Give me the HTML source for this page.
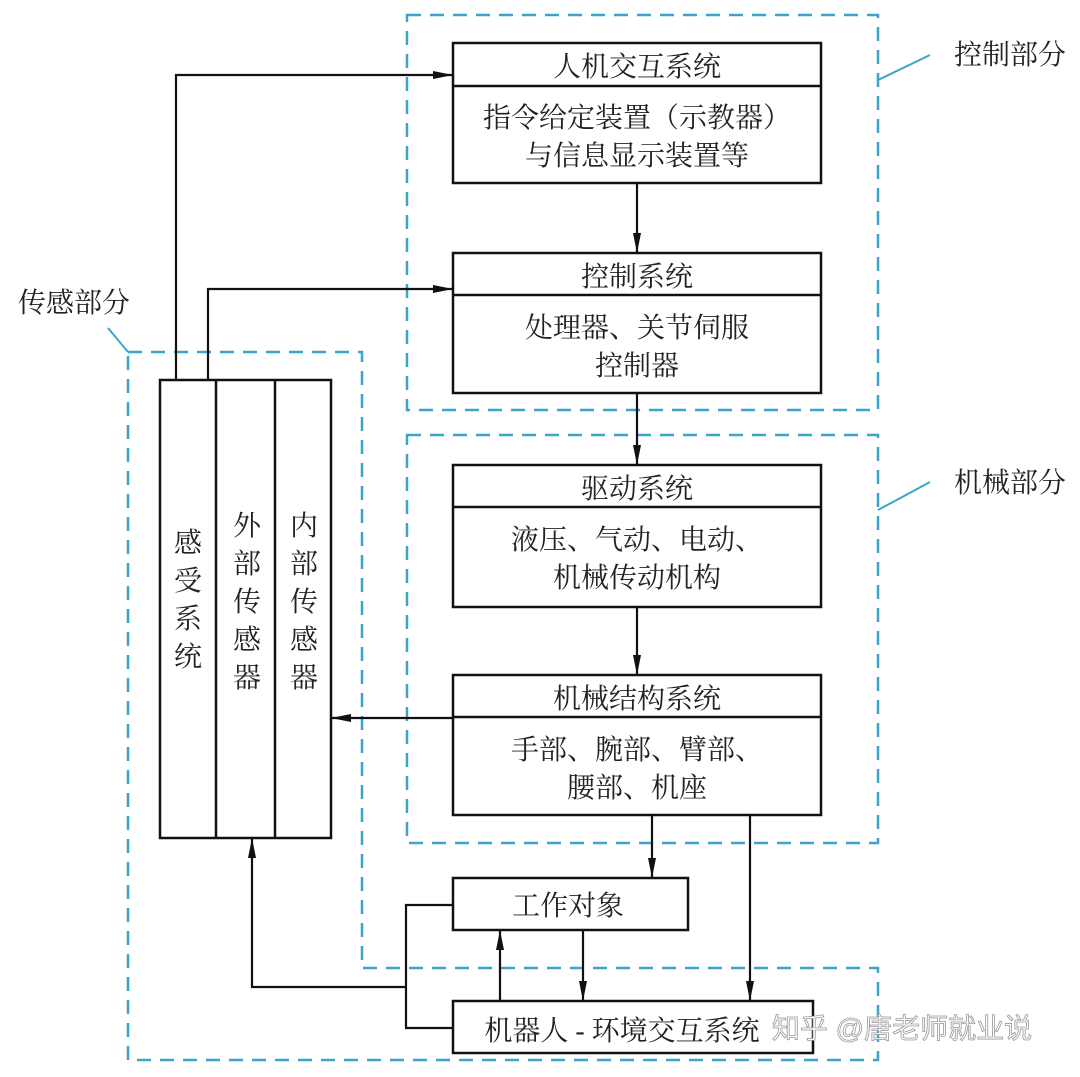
<!DOCTYPE html>
<html><head><meta charset="utf-8"><style>
body{margin:0;background:#fff}
svg text{font-family:"Liberation Serif","Noto Serif CJK SC",serif;fill:#222}
</style></head><body>
<svg width="1080" height="1072" viewBox="0 0 1080 1072" xmlns="http://www.w3.org/2000/svg">
<defs>
<marker id="b" viewBox="0 0 20 10" refX="20" refY="5" markerWidth="20" markerHeight="10" markerUnits="userSpaceOnUse" orient="auto"><path d="M0,1 L20,5 L0,9 Z" fill="#111"/></marker></defs>
<g fill="none" stroke="#3aa5c8" stroke-width="2.5" stroke-dasharray="14,9">
<rect x="407" y="15" width="471" height="395"/>
<rect x="407" y="435" width="471" height="408"/>
<path d="M128,352 H362 V968 H878 V1060 H128 Z"/>
</g>
<g stroke="#3aa5c8" stroke-width="2"><path d="M878,80 L930,55"/><path d="M878,510 L930,482"/><path d="M128,352 L108,328"/></g>
<g fill="#fff" stroke="#111" stroke-width="2.5">
<rect x="453" y="43" width="368" height="140"/><line x1="453" y1="86" x2="821" y2="86"/>
<rect x="453" y="253" width="368" height="140"/><line x1="453" y1="295" x2="821" y2="295"/>
<rect x="453" y="465" width="368" height="142"/><line x1="453" y1="507" x2="821" y2="507"/>
<rect x="453" y="675" width="368" height="140"/><line x1="453" y1="717" x2="821" y2="717"/>
<rect x="453" y="878" width="235" height="52"/>
<rect x="453" y="1001" width="360" height="52"/>
<rect x="160" y="380" width="171" height="458"/><line x1="216" y1="380" x2="216" y2="838"/><line x1="275" y1="380" x2="275" y2="838"/>
</g>
<g fill="none" stroke="#111" stroke-width="2.2">
<path d="M176,380 V75 H453" marker-end="url(#b)"/>
<path d="M208,380 V289 H453" marker-end="url(#b)"/>
<path d="M637,183 V253" marker-end="url(#b)"/>
<path d="M637,393 V465" marker-end="url(#b)"/>
<path d="M637,607 V675" marker-end="url(#b)"/>
<path d="M453,718 H331" marker-end="url(#b)"/>
<path d="M652,815 V878" marker-end="url(#b)"/>
<path d="M750,815 V1001" marker-end="url(#b)"/>
<path d="M583,930 V1001" marker-end="url(#b)"/>
<path d="M500,1001 V930" marker-end="url(#b)"/>
<path d="M453,905 H406 V1028 H453"/>
<path d="M406,987 H252 V838" marker-end="url(#b)"/>
</g>
<g font-size="28" text-anchor="middle">
<text x="637" y="76">人机交互系统</text>
<text x="637" y="127">指令给定装置（示教器）</text>
<text x="637" y="165">与信息显示装置等</text>
<text x="637" y="286">控制系统</text>
<text x="637" y="337">处理器、关节伺服</text>
<text x="637" y="375">控制器</text>
<text x="637" y="498">驱动系统</text>
<text x="637" y="549">液压、气动、电动、</text>
<text x="637" y="587">机械传动机构</text>
<text x="637" y="708">机械结构系统</text>
<text x="637" y="759">手部、腕部、臂部、</text>
<text x="637" y="797">腰部、机座</text>
<text x="568" y="915">工作对象</text>
<text x="622" y="1040">机器人 - 环境交互系统</text>
<text x="1010" y="64">控制部分</text>
<text x="1010" y="492">机械部分</text>
<text x="74" y="312">传感部分</text>
<text x="188" y="552">感</text><text x="188" y="590">受</text><text x="188" y="628">系</text><text x="188" y="666">统</text>
<text x="247" y="535">外</text><text x="247" y="573">部</text><text x="247" y="611">传</text><text x="247" y="649">感</text><text x="247" y="687">器</text>
<text x="304" y="535">内</text><text x="304" y="573">部</text><text x="304" y="611">传</text><text x="304" y="649">感</text><text x="304" y="687">器</text>
</g>
<text x="902" y="1038" font-size="28" text-anchor="middle" style="fill:#fff;stroke:#999;stroke-width:0.8;font-family:'Liberation Sans','Noto Sans CJK SC',sans-serif">知乎 @唐老师就业说</text>
</svg>
</body></html>
